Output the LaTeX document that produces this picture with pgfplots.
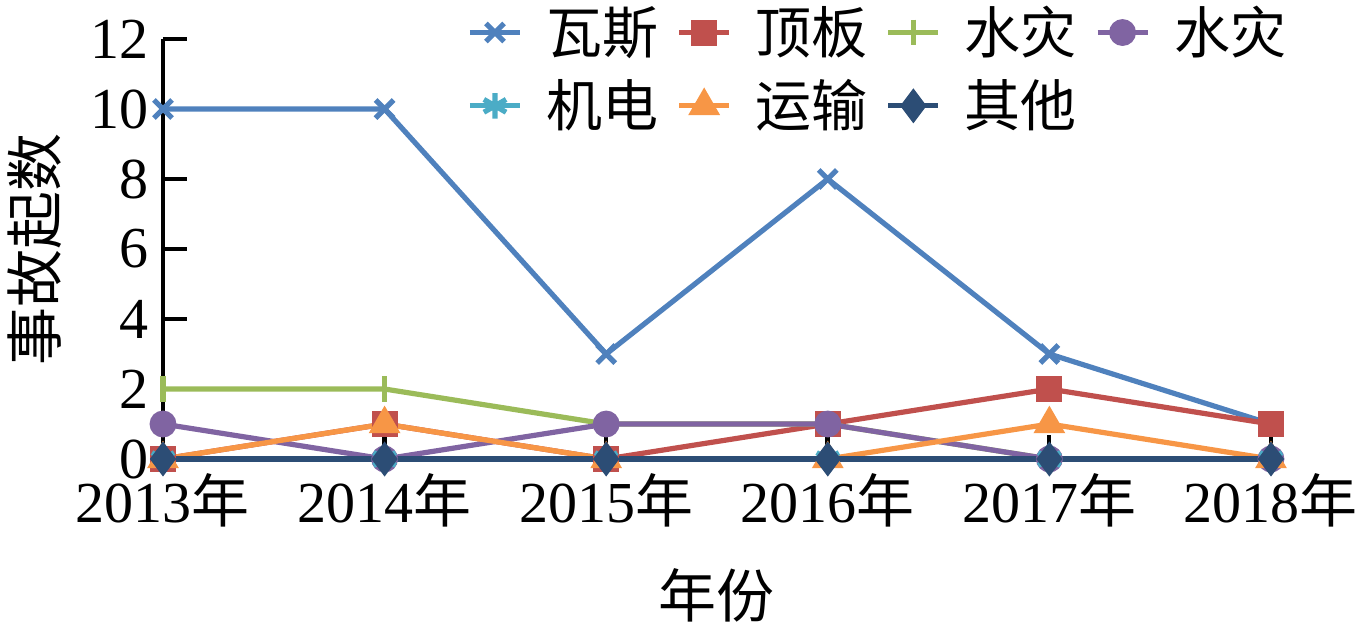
\documentclass[border=0pt]{standalone}
\usepackage{fontspec}
\setmainfont{Liberation Serif}
\newfontfamily\cjk{Noto Sans CJK SC}
\usepackage{pgfplots}
\pgfplotsset{compat=1.18}
\definecolor{cA}{HTML}{4F81BD}
\definecolor{cB}{HTML}{C0504D}
\definecolor{cC}{HTML}{9BBB59}
\definecolor{cD}{HTML}{8064A2}
\definecolor{cE}{HTML}{4BACC6}
\definecolor{cF}{HTML}{F79646}
\definecolor{cG}{HTML}{2C4D75}
\begin{document}
\begin{tikzpicture}
\begin{axis}[name=ax,
  scale only axis, width=277pt, height=105pt,
  xmin=2013, xmax=2018, ymin=0, ymax=12,
  axis lines*=left, axis line style={line width=1.1pt, black},
  xtick={2013,...,2018},
  xticklabels={2013{\cjk 年},2014{\cjk 年},2015{\cjk 年},2016{\cjk 年},2017{\cjk 年},2018{\cjk 年}},
  ytick={0,2,...,12},
  tick align=inside, major tick length=6pt,
  tick style={black, line width=1.1pt},
  /pgf/number format/assume math mode=true,
  ticklabel style={font=\fontsize{14.5}{16}\selectfont},
  xlabel={\cjk 年份}, ylabel={\cjk 事故起数},
  label style={font=\fontsize{14.5}{16}\selectfont},
  xlabel style={at={(rel axis cs:0.5,0)}, anchor=center, yshift=-34pt},
  ylabel style={at={(rel axis cs:-0.1155,0.5)}, anchor=center},
  clip=false,
  every axis plot/.append style={line width=1.3pt},
  legend columns=4,
  legend style={draw=none, fill=none, at={(rel axis cs:0.274,1.1)}, anchor=north west,
    font=\fontsize{14}{16}\selectfont\cjk, inner sep=0pt,
    /tikz/every odd column/.append style={column sep=4pt},
    /tikz/every even column/.append style={column sep=2.5pt},
    row sep=1pt},
  legend image code/.code={\draw[mark repeat=2,mark phase=2] plot coordinates {(0pt,0pt) (6.25pt,0pt) (12.5pt,0pt)};},
]
\addplot[cA, mark=x, mark size=3.2pt] coordinates {(2013,10) (2014,10) (2015,3) (2016,8) (2017,3) (2018,1)};
\addlegendentry{瓦斯}
\addplot[cB, mark=square*, mark size=2.6pt] coordinates {(2013,0) (2014,1) (2015,0) (2016,1) (2017,2) (2018,1)};
\addlegendentry{顶板}
\addplot[cC, mark=|, mark size=3.2pt] coordinates {(2013,2) (2014,2) (2015,1) (2016,1) (2017,0) (2018,0)};
\addlegendentry{水灾}
\addplot[cD, mark=*, mark size=2.7pt] coordinates {(2013,1) (2014,0) (2015,1) (2016,1) (2017,0) (2018,0)};
\addlegendentry{水灾}
\addplot[cE, mark=asterisk, mark size=3.2pt] coordinates {(2013,0) (2014,0) (2015,0) (2016,0) (2017,0) (2018,0)};
\addlegendentry{机电}
\addplot[cF, mark=triangle*, mark size=3.3pt] coordinates {(2013,0) (2014,1) (2015,0) (2016,0) (2017,1) (2018,0)};
\addlegendentry{运输}
\addplot[cG, mark=diamond*, mark size=3.3pt] coordinates {(2013,0) (2014,0) (2015,0) (2016,0) (2017,0) (2018,0)};
\addlegendentry{其他}
\end{axis}
\pgfresetboundingbox
\path (ax.south west) ++(-40.75pt,-41.5pt) rectangle ++(341pt,156.25pt);
\end{tikzpicture}
\end{document}
